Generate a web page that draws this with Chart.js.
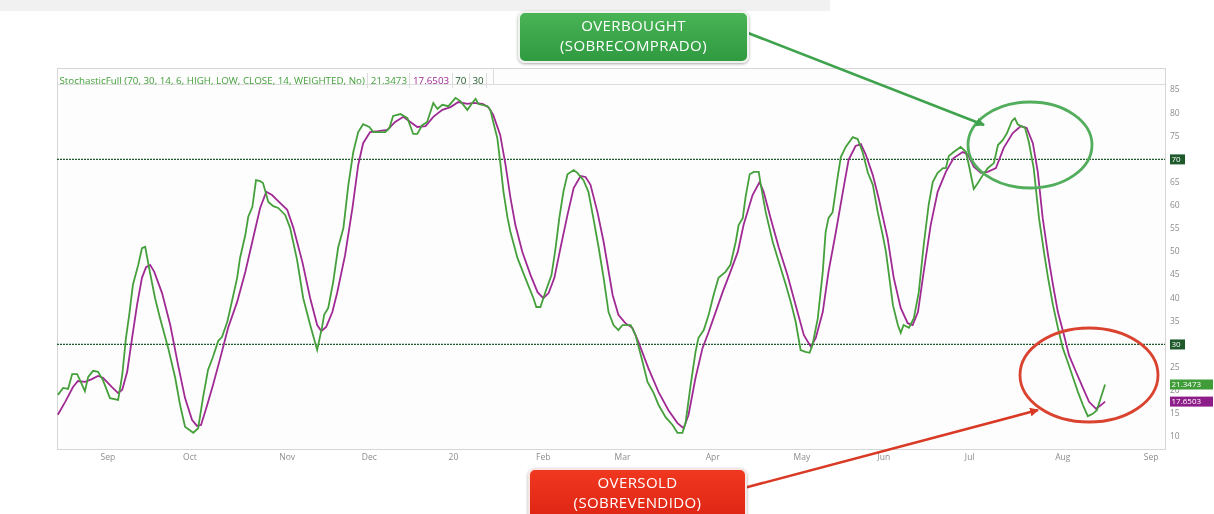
<!DOCTYPE html>
<html>
<head>
<meta charset="utf-8">
<script src="https://cdn.jsdelivr.net/npm/chart.js@4"></script>
<style>
  html, body { margin: 0; padding: 0; background: #ffffff; }
  #wrap { position: relative; width: 1214px; height: 514px; overflow: hidden; font-family: "Open Sans", "Noto Sans", sans-serif; }
  #topband { position: absolute; left: 0; top: 0; width: 830px; height: 11px; background: #f1f1f1; }
  canvas { position: absolute; left: 0; top: 0; }
  #hdr { position: absolute; left: 57px; top: 69px; width: 1108px; height: 15px; border-bottom: 1px solid #dcdcdc; font-size: 9.8px; line-height: 15px; white-space: nowrap; }
  #hdr span { display: inline-block; padding: 0 2.5px; border-right: 1px solid #dcdcdc; height: 15px; }
  #hdr span.pad { width: 6px; padding: 0; }
  .box { position: absolute; color: #fff; text-align: center; font-size: 15px; line-height: 20px; border-radius: 7px; border: 2px solid #eef3ee; box-shadow: 0 1px 3px rgba(0,0,0,0.35); letter-spacing: 0.4px; }
  #ob { left: 518px; top: 11px; width: 227px; height: 46px; background: linear-gradient(#48b455, #2f9a40); padding-top: 2px; }
  #os { left: 528px; top: 468px; width: 215px; height: 50px; background: linear-gradient(#f0371f, #dd2414); border-color: #f5e6e4; padding-top: 2px; }
  svg { position: absolute; left: 0; top: 0; }
</style>
</head>
<body>
<div id="wrap">
  <div id="topband"></div>
  <canvas id="c" width="1214" height="514"></canvas>
  <div id="hdr"></div>
  <svg width="1214" height="514" viewBox="0 0 1214 514">
    <defs>
      <marker id="ag" markerWidth="9" markerHeight="9" refX="8" refY="4.5" orient="auto" markerUnits="userSpaceOnUse">
        <path d="M0,0 L9,4.5 L0,9 z" fill="#3fa34d"/>
      </marker>
      <marker id="ar" markerWidth="9" markerHeight="9" refX="8" refY="4.5" orient="auto" markerUnits="userSpaceOnUse">
        <path d="M0,0 L9,4.5 L0,9 z" fill="#d93a25"/>
      </marker>
    </defs>
    <ellipse cx="1030" cy="145" rx="62" ry="43" fill="none" stroke="#52ad5c" stroke-width="2.8"/>
    <ellipse cx="1089" cy="375" rx="69" ry="47" fill="none" stroke="#d9432f" stroke-width="2.8"/>
    <line x1="748" y1="33" x2="984" y2="125" stroke="#3fa34d" stroke-width="2.6" marker-end="url(#ag)"/>
    <line x1="744" y1="488" x2="1038" y2="410" stroke="#d93a25" stroke-width="2.6" marker-end="url(#ar)"/>
  </svg>
  <div id="ob" class="box">OVERBOUGHT<br>(SOBRECOMPRADO)</div>
  <div id="os" class="box">OVERSOLD<br>(SOBREVENDIDO)</div>
</div>
<script>
// ---- data (x = trading session index) ----
const kDays = [0.2,1.5,2.7,3.7,4.9,5.6,6.8,7.6,8.8,10.0,
  11.2,12.9,14.9,15.9,16.8,17.6,18.5,19.8,20.7,21.5,
  22.4,23.9,25.1,27.1,28.8,30.0,31.2,33.2,34.4,35.6,
  36.8,38.0,39.3,40.2,41.5,42.7,43.9,44.6,45.9,46.6,
  47.6,48.5,49.5,50.2,51.5,52.7,53.9,55.6,56.8,58.5,
  60.0,61.7,63.4,64.6,65.1,66.1,67.3,68.5,69.8,71.0,
  72.2,73.4,74.6,76.1,77.1,80.0,81.0,81.9,83.7,85.4,
  86.8,87.8,89.0,90.2,91.7,92.7,93.9,95.4,97.1,98.3,
  100.0,101.2,102.0,102.7,104.9,105.6,106.3,107.3,108.0,108.8,
  109.8,110.5,112.2,114.1,116.1,116.8,117.8,119.0,120.5,121.5,
  122.4,123.4,124.4,125.9,126.8,128.3,129.5,130.7,132.0,133.2,
  134.4,135.6,136.8,137.8,139.8,141.0,142.7,143.9,145.4,146.6,
  148.3,150.0,151.2,152.4,153.2,154.4,155.6,156.3,157.6,158.8,
  160.0,161.2,162.9,164.1,165.4,166.1,167.1,167.8,168.8,169.8,
  171.0,171.5,172.7,174.4,175.9,177.6,178.8,180.0,181.2,182.4,
  183.4,184.1,185.4,186.6,187.3,188.0,189.0,190.2,191.0,192.2,
  193.9,195.1,196.3,197.6,198.8,200.0,201.2,202.0,203.7,204.9,
  205.6,206.3,207.6,208.8,210.0,211.2,212.4,213.4,214.6,215.9,
  216.6,217.3,218.5,220.2,221.5,222.2,223.4,224.4,225.6,226.8,
  228.3,229.3,230.5,231.5,232.7,233.4,234.1,234.9,235.9,236.8,
  238.0,239.3,240.5,241.5,242.7,243.9,245.1,246.3,247.6,248.8,
  250.0,251.2,252.4,253.4,254.4,255.4];
const kValues = [19.1,20.6,20.4,23.6,23.6,22.3,19.9,23.0,24.3,24.1,
  22.3,18.4,18.0,23.4,31.4,36.4,42.9,47.2,50.8,51.1,
  46.7,40.0,35.7,29.2,22.8,16.9,12.2,10.9,11.9,18.6,
  24.5,27.3,30.8,31.6,34.9,39.6,44.4,48.7,53.7,57.6,
  59.7,65.5,65.3,64.9,60.8,59.9,59.5,58.0,55.2,48.3,
  40.0,34.2,28.8,33.8,36.4,37.9,43.5,50.9,55.2,64.5,
  71.6,75.9,77.6,77.0,75.9,75.9,76.8,79.4,79.8,78.9,
  75.5,75.5,77.4,78.1,82.2,80.9,81.8,81.5,83.3,82.6,
  80.7,82.2,83.1,82.0,81.5,80.7,78.1,74.6,69.4,63.0,
  57.3,54.3,48.7,44.4,40.0,38.1,38.1,41.3,45.0,50.9,
  57.3,63.0,66.8,67.7,67.1,65.5,63.0,57.3,50.9,44.4,
  37.0,34.2,33.1,34.2,34.2,32.0,26.2,21.9,19.5,16.9,
  14.3,12.6,10.9,10.9,13.2,21.2,28.4,31.4,33.1,36.4,
  40.7,44.4,45.7,47.2,52.2,55.8,57.3,61.9,66.8,67.3,
  67.3,64.5,58.6,52.2,47.8,42.9,39.2,34.9,28.8,28.4,
  28.2,29.9,35.7,45.7,54.3,57.3,58.6,66.0,70.5,72.7,
  74.8,74.4,71.6,67.1,64.5,58.6,53.7,50.0,38.5,34.2,
  32.5,34.2,33.6,35.7,41.3,51.5,60.1,65.1,67.1,68.1,
  68.1,70.7,71.6,72.7,71.6,68.8,63.6,64.9,66.6,68.1,
  69.2,73.1,74.2,75.7,78.3,78.9,77.6,77.2,76.8,73.8,
  68.1,57.3,50.0,44.4,38.5,33.6,29.2,26.2,22.8,19.7,
  16.9,14.5,15.0,15.8,18.6,21.3473];

const dDays = [0.2,2.0,3.9,5.1,6.8,8.5,10.0,11.2,13.4,14.9,
  15.9,17.1,18.3,19.5,20.7,21.7,22.7,23.7,25.6,27.6,
  29.5,31.2,32.9,34.1,35.1,36.6,38.0,39.8,41.7,43.9,
  45.9,47.8,49.5,51.0,52.4,53.9,56.1,57.6,59.8,61.7,
  63.4,64.4,65.6,67.1,68.3,70.2,72.0,73.4,74.6,76.3,
  78.3,80.5,82.4,84.4,86.1,87.8,89.8,91.7,93.9,95.9,
  97.8,100.0,101.5,103.7,105.1,106.3,108.0,109.3,110.5,111.7,
  113.4,115.4,117.1,118.5,119.8,121.2,122.7,124.4,125.9,127.6,
  128.8,130.0,131.7,133.2,135.4,136.8,138.5,140.2,141.7,144.1,
  146.6,149.0,151.2,152.7,153.9,155.6,157.3,158.8,160.5,162.2,
  164.1,165.9,167.3,169.5,171.2,172.2,173.9,175.9,178.0,180.0,
  182.0,183.7,184.9,186.6,188.0,189.8,191.5,192.9,194.6,195.9,
  197.1,198.8,200.2,202.4,203.9,205.6,207.3,208.5,209.8,211.2,
  212.9,214.6,216.6,218.5,220.7,222.0,223.4,225.1,226.8,228.8,
  230.7,232.9,234.9,236.3,237.8,239.0,240.2,241.5,242.7,243.9,
  245.4,246.6,248.3,250.0,251.5,253.2,254.4,255.4];
const dValues = [14.8,17.6,20.8,22.1,21.9,22.5,23.2,22.8,20.8,19.5,
  20.2,24.1,31.4,38.5,44.4,46.7,47.2,45.7,41.1,34.2,
  25.6,18.4,13.7,12.4,12.6,16.9,21.2,27.1,33.6,39.2,
  45.7,53.0,59.5,63.0,62.3,61.0,59.1,55.2,47.8,40.0,
  34.2,32.9,33.8,37.0,41.3,49.3,59.5,68.8,73.5,75.9,
  76.1,76.4,78.1,79.2,78.1,77.0,77.2,79.2,80.7,81.3,
  82.4,82.0,82.2,82.0,81.3,79.6,75.3,68.8,61.7,55.8,
  50.0,45.0,41.3,40.0,41.1,44.4,50.9,58.0,63.8,66.4,
  66.2,64.5,58.6,52.2,40.7,36.4,34.6,33.6,30.5,24.9,
  19.7,15.8,13.0,11.9,14.8,22.8,29.2,32.7,37.0,41.3,
  45.7,50.0,55.8,62.3,65.1,63.0,57.3,50.9,45.0,38.5,
  32.0,29.5,31.4,37.0,45.7,54.3,63.0,69.9,72.9,73.3,
  71.0,66.6,61.7,53.0,44.4,37.9,34.6,34.2,37.0,45.7,
  55.8,63.0,67.3,70.3,71.6,71.0,68.4,67.1,67.3,68.1,
  72.5,75.7,77.2,76.8,73.5,67.3,57.3,49.3,42.9,37.0,
  32.0,27.7,24.1,20.6,17.6,16.1,16.9,17.6503];

const monthTickPos = [12.4,32.4,56.1,76.1,96.6,118.5,137.8,159.8,181.5,201.5,222.4,245.1,266.6];
const monthLabels = ["Sep","Oct","Nov","Dec","20","Feb","Mar","Apr","May","Jun","Jul","Aug","Sep"];
const yTicks = [10,15,20,25,30,35,40,45,50,55,60,65,70,75,80,85];
const levelUpper = 70;
const levelLower = 30;
const lastK = "21.3473";
const lastD = "17.6503";
const title = "StochasticFull (70, 30, 14, 6, HIGH, LOW, CLOSE, 14, WEIGHTED, No)";

const GREEN = "#45a03c";
const PURPLE = "#a02a94";
const DARK = "#1f5a2c";

// header bar
const hdr = document.getElementById("hdr");
[[title, GREEN],[lastK, GREEN],[lastD, PURPLE],[String(levelUpper), DARK],[String(levelLower), DARK],["", DARK]].forEach(([t,c], i, arr) => {
  const s = document.createElement("span"); s.textContent = t; s.style.color = c;
  if (i === arr.length - 1) s.className = "pad";
  hdr.appendChild(s);
});

const X_MIN = 0, X_MAX = 270;
const pts = (xs, ys) => xs.map((x, i) => ({x, y: ys[i]}));

const framePlugin = {
  id: "frame",
  beforeDatasetsDraw(chart) {
    const {ctx, chartArea: a} = chart;
    ctx.save();
    ctx.fillStyle = "#fdfdfd";
    ctx.fillRect(a.left, a.top - 17, a.right - a.left, a.bottom - a.top + 17);
    ctx.strokeStyle = "#d6d6d6";
    ctx.lineWidth = 1;
    ctx.strokeRect(a.left + 0.5, a.top - 16.5, a.right - a.left, a.bottom - a.top + 16);
    ctx.restore();
  },
  afterDraw(chart) {
    const {ctx, chartArea: a, scales: {y}} = chart;
    const tag = (val, txt, bg, w) => {
      const py = y.getPixelForValue(val);
      ctx.fillStyle = bg;
      ctx.fillRect(a.right + 5, py - 5, w, 10);
      ctx.fillStyle = "#ffffff";
      ctx.font = "8px 'Open Sans', sans-serif";
      ctx.textBaseline = "middle";
      ctx.textAlign = "left";
      ctx.fillText(txt, a.right + 6.5, py + 0.5);
    };
    ctx.save();
    tag(levelUpper, String(levelUpper), DARK, 15);
    tag(levelLower, String(levelLower), DARK, 15);
    tag(parseFloat(lastK), lastK, "#3f9c38", 43);
    tag(parseFloat(lastD), lastD, "#8d1d88", 43);
    ctx.restore();
  }
};

new Chart(document.getElementById("c"), {
  type: "line",
  data: {
    datasets: [
      { label: "%K", data: pts(kDays, kValues), borderColor: GREEN, borderWidth: 1.8, pointRadius: 0, tension: 0, order: 1 },
      { label: "%D", data: pts(dDays, dValues), borderColor: PURPLE, borderWidth: 1.8, pointRadius: 0, tension: 0, order: 2 },
      { label: "70", data: [{x: X_MIN, y: levelUpper}, {x: X_MAX, y: levelUpper}], borderColor: DARK, borderWidth: 1.2, borderDash: [2, 1], pointRadius: 0, order: 3 },
      { label: "30", data: [{x: X_MIN, y: levelLower}, {x: X_MAX, y: levelLower}], borderColor: DARK, borderWidth: 1.2, borderDash: [2, 1], pointRadius: 0, order: 3 }
    ]
  },
  options: {
    responsive: false,
    animation: false,
    devicePixelRatio: 1,
    layout: { padding: { left: 57, top: 85, right: 0, bottom: 44 } },
    plugins: { legend: { display: false }, tooltip: { enabled: false } },
    scales: {
      x: {
        type: "linear", min: X_MIN, max: X_MAX,
        grid: { display: false, drawTicks: false },
        border: { display: false },
        afterBuildTicks: s => { s.ticks = monthTickPos.map(v => ({value: v})); },
        afterFit: s => { s.height = 20; },
        ticks: { autoSkip: false, maxRotation: 0, padding: 2, color: "#8c8c8c",
                 font: { size: 8.5, family: "'Open Sans', sans-serif" },
                 callback: (v, i) => monthLabels[i] }
      },
      y: {
        position: "right", min: 7.19, max: 86.08,
        grid: { display: false, drawTicks: false },
        border: { display: false },
        afterBuildTicks: s => { s.ticks = yTicks.map(v => ({value: v})); },
        afterFit: s => { s.width = 49; },
        ticks: { padding: 5, color: "#8c8c8c", font: { size: 8.5, family: "'Open Sans', sans-serif" } }
      }
    }
  },
  plugins: [framePlugin]
});
</script>
</body>
</html>
